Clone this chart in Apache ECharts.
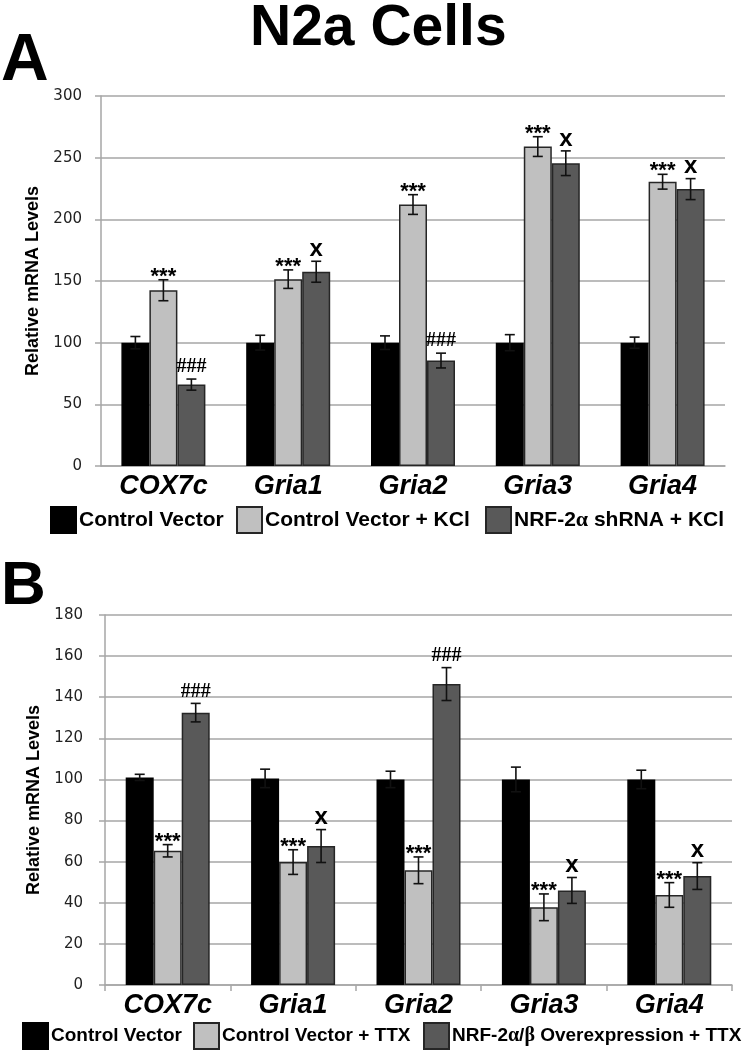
<!DOCTYPE html>
<html>
<head>
<meta charset="utf-8">
<script src="https://cdn.jsdelivr.net/npm/echarts@6/dist/echarts.min.js"></script>
<style>html,body{margin:0;padding:0;background:#fff;}#chart{width:742px;height:1050px;}</style>
</head>
<body>
<div id="chart"></div>
<script>
// ---- data ----
const categories = ['COX7c', 'Gria1', 'Gria2', 'Gria3', 'Gria4'];

// Panel A
const ctrlA = [100, 100, 100, 100, 100];
const ctrlAErr = [5, 6, 5.5, 6.5, 4.5];
const kclA = [142.5, 151.5, 212, 259, 230.5];
const kclAErr = [8.5, 7.5, 8, 8, 6];
const shA = [66, 157.5, 85.5, 245.5, 224.5];
const shAErr = [4.5, 8.5, 6, 10, 8.5];
const kclAMarks = ['***', '***', '***', '***', '***'];
const shAMarks = ['###', 'x', '###', 'x', 'x'];

// Panel B
const ctrlB = [101, 100.5, 100, 100, 100];
const ctrlBErr = [1.5, 4.5, 4, 6, 4.5];
const ttxB = [65.3, 59.8, 55.8, 37.8, 43.8];
const ttxBErr = [3, 6, 6.5, 6.5, 6];
const oeB = [132.5, 67.6, 146.4, 46, 53];
const oeBErr = [4.5, 8, 8, 6.3, 6.5];
const ttxBMarks = ['***', '***', '***', '***', '***'];
const oeBMarks = ['###', 'x', '###', 'x', 'x'];
const noMarks = ['', '', '', '', ''];

const yTicksA = {min: 0, max: 300, interval: 50};
const yTicksB = {min: 0, max: 180, interval: 20};

const namesA = ['Control Vector', 'Control Vector + KCl', 'NRF-2α shRNA + KCl'];
const namesB = ['Control Vector', 'Control Vector + TTX', 'NRF-2α/β Overexpression + TTX'];

// ---- styles ----
const fills = ['#000000', '#c0c0c0', '#595959'];
const borders = ['#000000', '#262626', '#262626'];
const GRID = '#a6a6a6';
const BAR_W = 28;

function barSeries(name, data, k, gi) {
  return {
    name: name, type: 'bar', xAxisIndex: gi, yAxisIndex: gi, data: data,
    barWidth: BAR_W, barGap: '0%',
    itemStyle: {color: fills[k], borderColor: borders[k], borderWidth: 1.5},
    z: 2
  };
}

function errSeries(id, vals, errs, marks, k, gi) {
  return {
    id: id, type: 'custom', xAxisIndex: gi, yAxisIndex: gi,
    data: vals.map((v, i) => [i, v, errs[i]]),
    encode: {x: 0, y: 1},
    z: 5, silent: true,
    renderItem: function (params, api) {
      const i = params.dataIndex;
      const c = api.coord([api.value(0), api.value(1)]);
      const x = c[0] + (k - 1) * BAR_W;
      const top = api.coord([api.value(0), api.value(1) + api.value(2)])[1];
      const bot = api.coord([api.value(0), api.value(1) - api.value(2)])[1];
      const st = {stroke: '#111', lineWidth: 1.6};
      const ch = [
        {type: 'line', shape: {x1: x, y1: top, x2: x, y2: bot}, style: st},
        {type: 'line', shape: {x1: x - 5, y1: top, x2: x + 5, y2: top}, style: st},
        {type: 'line', shape: {x1: x - 5, y1: bot, x2: x + 5, y2: bot}, style: st}
      ];
      const m = marks[i];
      if (m) {
        let font, dy;
        if (m === '***') { font = 'bold 22px "Liberation Sans", Arial, sans-serif'; dy = 3; }
        else if (m === 'x') { font = 'bold 24px "Liberation Sans", Arial, sans-serif'; dy = 12; }
        else { font = 'bold 20px "Liberation Serif", "Times New Roman", serif'; dy = 12; }
        ch.push({type: 'text', style: {text: m, x: x, y: top - dy, font: font, fill: '#000',
          textAlign: 'center', textVerticalAlign: 'middle'}});
      }
      return {type: 'group', children: ch};
    }
  };
}

function legendItem(name, left, top, size) {
  return {
    data: [name], left: left, top: top, padding: 0, orient: 'horizontal',
    itemWidth: 25, itemHeight: 26, icon: 'rect', selectedMode: false,
    formatter: n => n.replace('α', '{g|α}').replace('β', '{g|β}'),
    textStyle: {
      fontFamily: '"Liberation Sans", Arial, sans-serif',
      fontWeight: 'bold', fontSize: size, color: '#000', padding: [0, 0, 0, -2],
      rich: {g: {fontFamily: '"Liberation Serif", serif', fontSize: size + 1, color: '#000'}}
    }
  };
}

function yAxis(gi, ticks, gap, margin) {
  return {
    type: 'value', gridIndex: gi, min: ticks.min, max: ticks.max, interval: ticks.interval,
    name: 'Relative mRNA Levels', nameLocation: 'middle', nameGap: gap,
    nameTextStyle: {fontFamily: '"Liberation Sans", Arial, sans-serif', fontWeight: 'bold', fontSize: 18, color: '#000'},
    axisLine: {show: true, lineStyle: {color: GRID, width: 1.5}},
    axisTick: {show: true, length: 6, lineStyle: {color: GRID, width: 1.5}},
    axisLabel: {margin: margin, fontFamily: '"DejaVu Sans", sans-serif', fontSize: 15, color: '#222'},
    splitLine: {show: true, lineStyle: {color: GRID, width: 1.5}}
  };
}

function xAxis(gi, ticks) {
  return {
    type: 'category', gridIndex: gi, data: categories,
    axisLine: {show: true, lineStyle: {color: GRID, width: 1.5}},
    axisTick: {show: ticks, length: 6, lineStyle: {color: GRID, width: 1.5}},
    axisLabel: {margin: 7, fontFamily: '"Liberation Sans", Arial, sans-serif', fontWeight: 'bold',
      fontStyle: 'italic', fontSize: 27, color: '#000'}
  };
}

const chart = echarts.init(document.getElementById('chart'), null, {renderer: 'canvas'});
chart.setOption({
  animation: false,
  backgroundColor: '#fff',
  title: [
    {text: 'N2a Cells', left: 250, top: 1, padding: 0,
      textStyle: {fontFamily: '"Liberation Sans", Arial, sans-serif', fontWeight: 'bold', fontSize: 57, color: '#000'}},
    {text: 'A', left: 1, top: 29, padding: 0,
      textStyle: {fontFamily: '"Liberation Sans", Arial, sans-serif', fontWeight: 'bold', fontSize: 66, color: '#000'}},
    {text: 'B', left: 1, top: 556, padding: 0,
      textStyle: {fontFamily: '"Liberation Sans", Arial, sans-serif', fontWeight: 'bold', fontSize: 62, color: '#000'}}
  ],
  legend: [
    legendItem(namesA[0], 50, 506, 21),
    legendItem(namesA[1], 236, 506, 21),
    legendItem(namesA[2], 485, 506, 21),
    legendItem(namesB[0], 22, 1022, 19),
    legendItem(namesB[1], 193, 1022, 19),
    legendItem(namesB[2], 423, 1022, 19)
  ],
  grid: [
    {left: 101, top: 96, width: 624, height: 370},
    {left: 105, top: 615, width: 627, height: 370}
  ],
  xAxis: [xAxis(0, false), xAxis(1, true)],
  yAxis: [yAxis(0, yTicksA, 58, 19), yAxis(1, yTicksB, 60, 22)],
  series: [
    barSeries(namesA[0], ctrlA, 0, 0),
    barSeries(namesA[1], kclA, 1, 0),
    barSeries(namesA[2], shA, 2, 0),
    barSeries(namesB[0], ctrlB, 0, 1),
    barSeries(namesB[1], ttxB, 1, 1),
    barSeries(namesB[2], oeB, 2, 1),
    errSeries('errA0', ctrlA, ctrlAErr, noMarks, 0, 0),
    errSeries('errA1', kclA, kclAErr, kclAMarks, 1, 0),
    errSeries('errA2', shA, shAErr, shAMarks, 2, 0),
    errSeries('errB0', ctrlB, ctrlBErr, noMarks, 0, 1),
    errSeries('errB1', ttxB, ttxBErr, ttxBMarks, 1, 1),
    errSeries('errB2', oeB, oeBErr, oeBMarks, 2, 1)
  ]
});
</script>
</body>
</html>
